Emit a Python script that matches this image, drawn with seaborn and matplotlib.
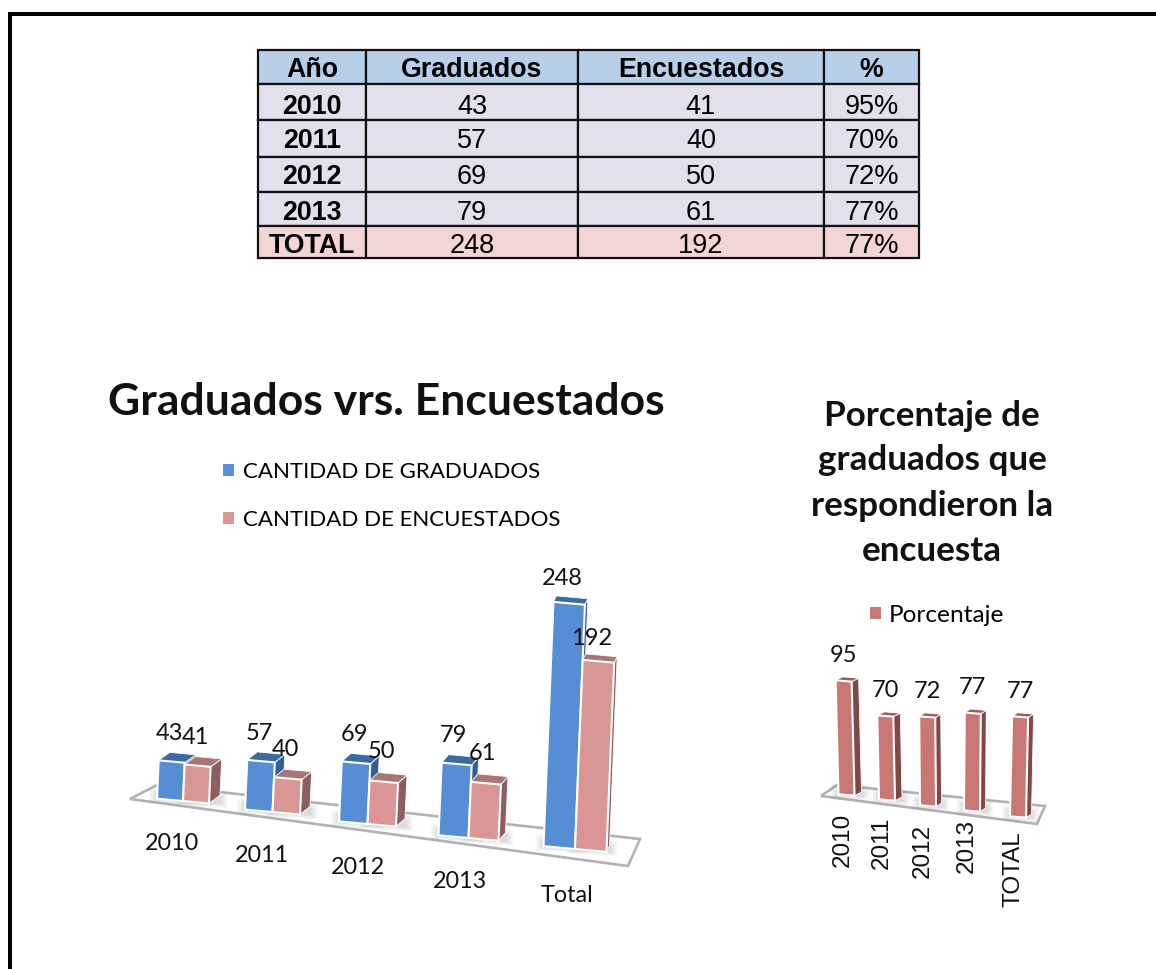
import numpy as np
import pandas as pd
import matplotlib
matplotlib.use("Agg")
import matplotlib.pyplot as plt
from matplotlib.patches import Polygon, Rectangle
from matplotlib.transforms import Affine2D, IdentityTransform
import seaborn as sns

# ---------- data ----------
table_header = ["Año", "Graduados", "Encuestados", "%"]
table_years = ["2010", "2011", "2012", "2013", "TOTAL"]
table_grad = ["43", "57", "69", "79", "248"]
table_enc = ["41", "40", "50", "61", "192"]
table_pct = ["95%", "70%", "72%", "77%", "77%"]

left_cats = ["2010", "2011", "2012", "2013", "Total"]
graduados = [43, 57, 69, 79, 248]
encuestados = [41, 40, 50, 61, 192]
left_series = ["CANTIDAD DE GRADUADOS", "CANTIDAD DE ENCUESTADOS"]

right_cats = ["2010", "2011", "2012", "2013", "TOTAL"]
porcentaje = [95, 70, 72, 77, 77]
right_series = "Porcentaje"

title_left = "Graduados vrs. Encuestados"
title_right = ["Porcentaje de", "graduados que", "respondieron la", "encuesta"]

# ---------- layout (pixels, y from the top) ----------
W, H = 1156, 969
sns.set_style("white")
plt.rcParams["font.family"] = ["Lato", "DejaVu Sans"]
plt.rcParams["text.color"] = "black"
fig = plt.figure(figsize=(W / 100, H / 100), dpi=100, facecolor="white")
ID = IdentityTransform()

def P(x, y):
    return (x, H - y)

def T(x, y, s, **kw):
    kw.setdefault("ha", "center")
    kw.setdefault("va", "center")
    return fig.text(x, H - y, s, transform=ID, **kw)

# page frame
fig.add_artist(Rectangle(P(8, H), 4, H - 12, transform=ID, fc="black", ec="none"))
fig.add_artist(Rectangle(P(8, 16), W - 8, 4, transform=ID, fc="black", ec="none"))

def axes_px(x0, y0, w, h):
    return fig.add_axes([x0 / W, 1 - (y0 + h) / H, w / W, h / H])

# ---------- table ----------
tx = axes_px(258, 50, 661, 208)
tx.axis("off")
col_w = [108, 212, 246, 95]
row_h = [34, 36, 37, 35, 34, 32]
row_shift = [3, 5, 3, 3, 4, 4]
cells = [table_header] + [list(r) for r in zip(table_years, table_grad, table_enc, table_pct)]
tb = tx.table(cellText=cells, cellLoc="center", bbox=[0, 0, 1, 1],
              colWidths=[c / sum(col_w) for c in col_w])
tb.auto_set_font_size(False)
for (r, c), cell in tb.get_celld().items():
    cell.set_height(row_h[r] / sum(row_h))
    cell.set_linewidth(1.6)
    cell.set_edgecolor("#111111")
    bold = r == 0 or c == 0
    txt = cell.get_text()
    txt.set_fontfamily("Liberation Sans")
    txt.set_fontsize(19.3 if bold else 19.5)
    txt.set_fontweight("bold" if bold else "normal")
    txt.set_color("black")
    txt.set_transform(Affine2D().translate(0, -row_shift[r]))
    cell.set_facecolor("#b8cfea" if r == 0 else "#f2d5d4" if r == 5 else "#e4dfec")

# ---------- bar drawing helpers ----------
def floor(ax, pts, z=0.5):
    ax.add_patch(Polygon([P(*p) for p in pts], closed=True, transform=ID, fc="white",
                         ec="#b2b2b2", lw=1.9, zorder=z, clip_on=False))

def place_bar(ax, bar, xc_data, xt, yt, sx, sy, lean, slope):
    """Re-project a seaborn bar to its pseudo-3D place; returns front corners (display)."""
    Xc, Y0 = ax.transData.transform((xc_data, 0))
    m = np.array([[sx, lean, xt - sx * Xc - lean * Y0],
                  [-slope * sx, sy, (H - yt) + slope * sx * Xc - sy * Y0],
                  [0, 0, 1]])
    tr = Affine2D(m)
    bar.set_transform(ax.transData + tr)
    bar.set_clip_on(False)
    x, y, w, h = bar.get_x(), bar.get_y(), bar.get_width(), bar.get_height()
    return tr.transform(ax.transData.transform([(x, y), (x + w, y), (x + w, y + h), (x, y + h)]))

def add_depth(ax, c, dx, dy, top_col, side_col, z):
    bl, br, tr_, tl = c
    d = np.array([dx, dy])
    ax.add_patch(Polygon([br, tr_, tr_ + d, br + d], transform=ID, fc=side_col, ec="white",
                         lw=0.6, zorder=z, clip_on=False))
    ax.add_patch(Polygon([tl, tr_, tr_ + d, tl + d], transform=ID, fc=top_col, ec="white",
                         lw=0.6, zorder=z, clip_on=False))

def shadow(ax, c, dx, z=0.8):
    bl, br = c[0], c[1]
    for grow, a in ((8, 0.04), (6, 0.05), (4, 0.06), (2, 0.07)):
        ax.add_patch(Polygon([bl + [-grow, -grow * .6], br + [dx + grow, -grow * .6],
                              br + [dx + grow, grow * .8 + 5], bl + [-grow, grow * .8 + 5]],
                             transform=ID, fc="#606060", ec="none", alpha=a, zorder=z, clip_on=False))

# ---------- left chart ----------
C_BLUE, C_PINK = "#558ed5", "#d99694"
long_left = pd.DataFrame({
    "cat": left_cats * 2,
    "val": graduados + encuestados,
    "serie": [left_series[0]] * 5 + [left_series[1]] * 5,
})
axL = axes_px(100, 560, 500, 300)
sns.barplot(data=long_left, x="cat", y="val", hue="serie", order=left_cats,
            palette=[C_BLUE, C_PINK], width=0.6, gap=0, dodge=True, saturation=1, ax=axL,
            edgecolor="white", linewidth=1.5)
axL.set_xlim(-0.5, 4.5)
axL.set_ylim(0, 300)
axL.axis("off")
fig.canvas.draw()

bx = [183, 272.5, 367.5, 468.5, 575]     # blue/pink border at the floor
by = [801, 812, 824, 838, 849]
bw = [26, 27.5, 28.5, 30, 31.5]
bs = [0.89, 0.87, 0.87, 0.92, 0.985]
bdx = [11, 10, 9, 7, 3]
bdy = [8, 8, 8, 8, 6]
lab_dx = [-2, -2, -2, -3, -7]
lab_dy = [[28, 28, 28, 28, 25], [28, 29, 30, 30, 23]]
floor(axL, [(130, 799), (157, 785), (640, 839), (628, 866)])
face = [("#3a6ca3", "#2f5f94"), ("#a87674", "#8a5f5e")]
for s, cont in enumerate(axL.containers):
    for i, bar in enumerate(cont):
        z = 1 + i * 2 + s * 0.5
        c = place_bar(axL, bar, i, bx[i], by[i], bw[i] / 30, bs[i], 0.04, 0.09)
        bar.set_zorder(z + 0.2)
        add_depth(axL, c, bdx[i], bdy[i], face[s][0], face[s][1], z)
        shadow(axL, c, bdx[i])
        val = (graduados, encuestados)[s][i]
        T((c[2][0] + c[3][0]) / 2 + lab_dx[i], H - (c[2][1] + c[3][1]) / 2 - lab_dy[s][i], str(val),
          fontsize=17, color="#111111")
sns.move_legend(axL, "upper left", bbox_to_anchor=P(222, 462), bbox_transform=ID, title=None,
                frameon=False, fontsize=16, handlelength=0.57, handleheight=0.57,
                handletextpad=0.37, labelspacing=1.24, borderpad=0, borderaxespad=0)
for lab, x, y in zip(left_cats, [172, 262, 358, 460, 567], [843, 856, 868, 882, 895]):
    T(x, y, lab, fontsize=16.8, color="#111111")
T(386, 402, title_left, fontsize=32, fontweight="bold", color="#111111")

# ---------- right chart ----------
C_RED = "#c97775"
right_df = pd.DataFrame({"cat": right_cats, "val": porcentaje, "serie": right_series})
axR = axes_px(800, 660, 250, 160)
sns.barplot(data=right_df, x="cat", y="val", hue="serie", order=right_cats, palette=[C_RED],
            width=0.16, saturation=1, ax=axR, edgecolor="white", linewidth=1.5)
axR.set_xlim(-0.5, 2.0)
axR.set_ylim(0, 160)
axR.axis("off")
fig.canvas.draw()
rx = [846.5, 887, 928, 972, 1018]
ry = [795, 800, 806, 811, 817]
rs = [1.2, 1.2, 1.236, 1.27, 1.3]
rk = [-0.03, -0.024, -0.011, 0.01, 0.027]
rdx = [7, 7, 5.5, 5.5, 5.5]
floor(axR, [(821, 796), (837, 785), (1045, 806), (1037, 824)])
for i, bar in enumerate(axR.containers[0]):
    z = 1 + i
    c = place_bar(axR, bar, i, rx[i], ry[i], 1.0, rs[i], rk[i], 0.08)
    bar.set_zorder(z + 0.2)
    add_depth(axR, c, rdx[i], 3.5, "#a05c5a", "#7f4746", z)
    shadow(axR, c, rdx[i])
    T((c[2][0] + c[3][0]) / 2, H - c[2][1] - 26, str(porcentaje[i]), fontsize=17, color="#111111")
sns.move_legend(axR, "upper left", bbox_to_anchor=P(869, 605), bbox_transform=ID, title=None,
                frameon=False, fontsize=17.6, handlelength=0.52, handleheight=0.52,
                handletextpad=0.28, borderpad=0, borderaxespad=0)
for lab, x, y in zip(right_cats, [843, 882, 923, 967, 1014], [840, 843, 851, 846, 869]):
    T(x, y, lab, fontsize=17.5, color="#111111", rotation=90, family="Liberation Sans")
for line, y in zip(title_right, [414, 458, 504, 549]):
    T(932, y + 2, line, fontsize=25.2, fontweight="bold", color="#111111")

fig.savefig("out.png", dpi=100)
